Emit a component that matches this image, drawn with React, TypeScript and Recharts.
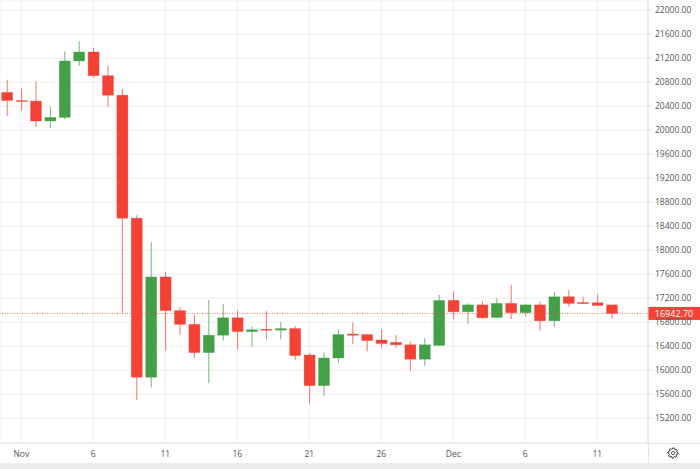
import React from 'react';
import { ComposedChart, Bar, XAxis, YAxis, CartesianGrid, ReferenceLine } from 'recharts';

const RED = '#f44336';
const GREEN = '#43a047';

// day offset from Nov 1 (Oct 31 = -1)
const days = [
  -1, 0, 1, 2, 3, 4, 5, 6, 7, 8, 9, 10, 11, 12, 13, 14, 15, 16, 17, 18, 19, 20,
  21, 22, 23, 24, 25, 26, 27, 28, 29, 30, 31, 32, 33, 34, 35, 36, 37, 38, 39, 40, 41,
];
const opens = [
  20627, 20491, 20482, 20150, 20210, 21150, 21300, 20905, 20580, 18530, 15880, 17550,
  16990, 16760, 16290, 16580, 16870, 16640, 16680, 16665, 16690, 16250, 15740, 16200,
  16600, 16590, 16500, 16460, 16420, 16180, 16410, 17160, 16970, 17085, 16875, 17110,
  16955, 17085, 16820, 17220, 17125, 17120, 17085,
];
const highs = [
  20838, 20690, 20810, 20390, 21310, 21480, 21370, 21065, 20680, 18580, 18130, 17640,
  17050, 16920, 17170, 17100, 16990, 16730, 16980, 16800, 16730, 16280, 16290, 16680,
  16790, 16600, 16680, 16580, 16470, 16530, 17250, 17310, 17110, 17150, 17195, 17420,
  17100, 17140, 17300, 17335, 17220, 17260, 17085,
];
const lows = [
  20238, 20320, 20050, 20030, 20180, 21070, 20870, 20380, 16950, 15500, 15710, 16320,
  16590, 16210, 15780, 16490, 16340, 16390, 16510, 16510, 16170, 15440, 15570, 16120,
  16430, 16310, 16360, 16370, 15990, 16070, 16400, 16850, 16770, 16850, 16870, 16850,
  16890, 16655, 16720, 17055, 17095, 17065, 16855,
];
const closes = [
  20491, 20482, 20150, 20210, 21150, 21300, 20905, 20580, 18530, 15880, 17550, 16990,
  16760, 16290, 16580, 16870, 16640, 16670, 16665, 16690, 16240, 15740, 16200, 16590,
  16580, 16490, 16440, 16420, 16180, 16420, 17160, 16970, 17085, 16870, 17110, 16955,
  17085, 16820, 17220, 17110, 17105, 17075, 16942.7,
];

const tickDays = [0, 5, 10, 15, 20, 25, 30, 35, 40];
const tickLabels = ['Nov', '6', '11', '16', '21', '26', 'Dec', '6', '11'];
const priceTicks = [
  15200, 15600, 16000, 16400, 16800, 17200, 17600, 18000, 18400, 18800, 19200,
  19600, 20000, 20400, 20800, 21200, 21600, 22000,
];
const lastPrice = 16942.7;

const data = days.map((day, i) => ({
  day,
  open: opens[i],
  high: highs[i],
  low: lows[i],
  close: closes[i],
  range: [lows[i], highs[i]],
}));

function Candle(props: any) {
  const { x, y, width, height, payload } = props;
  if (x == null || y == null || !payload) return null;
  const top = Math.min(y, y + height);
  const h = Math.abs(height);
  const { open, close, high, low } = payload;
  const k = high === low ? 0 : h / (high - low);
  const yOf = (v: number) => top + (high - v) * k;
  const color = close >= open ? GREEN : RED;
  const bodyTop = yOf(Math.max(open, close));
  const bodyH = Math.max(1, yOf(Math.min(open, close)) - bodyTop);
  const cx = x + width / 2;
  return (
    <g>
      <line x1={cx} x2={cx} y1={top} y2={top + h} stroke={color} strokeWidth={1} strokeOpacity={0.75} />
      <rect x={x} y={bodyTop} width={width} height={bodyH} fill={color} stroke={color} strokeOpacity={0.5} strokeWidth={0.6} />
    </g>
  );
}

function PriceTag(props: any) {
  const vb = props.viewBox || {};
  const x0 = (vb.x || 0) + (vb.width || 0);
  const yc = vb.y || 0;
  return (
    <g>
      <rect x={x0} y={yc - 6.5} width={52} height={13} fill={RED} />
      <text x={x0 + 26} y={yc} dy="0.35em" textAnchor="middle" fill="#fff" fontSize={9} fontFamily='"Open Sans", sans-serif'>
        {lastPrice.toFixed(2)}
      </text>
    </g>
  );
}

function Gear() {
  const pts: string[] = [];
  const teeth = 8;
  for (let i = 0; i < teeth * 4; i++) {
    const a = (i / (teeth * 4)) * Math.PI * 2 - Math.PI / 2;
    const r = i % 4 === 0 || i % 4 === 1 ? 5.2 : 3.9;
    pts.push(`${(6 + r * Math.cos(a)).toFixed(2)},${(6 + r * Math.sin(a)).toFixed(2)}`);
  }
  return (
    <svg width={12} height={12} style={{ position: 'absolute', left: 667, top: 447 }}>
      <polygon points={pts.join(' ')} fill="none" stroke="#333" strokeWidth={1} />
      <circle cx={6} cy={6} r={1.6} fill="none" stroke="#333" strokeWidth={0.8} />
    </svg>
  );
}

export default function App() {
  return (
    <div
      style={{
        position: 'fixed',
        left: 0,
        top: 0,
        width: 700,
        height: 469,
        background: '#fff',
        fontFamily: '"Open Sans", sans-serif',
      }}
    >
      <ComposedChart width={700} height={463} data={data} margin={{ top: 0, right: 0, bottom: 0, left: 0 }}>
        <CartesianGrid stroke="#efefef" />
        <XAxis
          dataKey="day"
          type="number"
          domain={[-1.479, 43.521]}
          allowDataOverflow
          ticks={tickDays}
          tickFormatter={(v) => tickLabels[tickDays.indexOf(v)] ?? ''}
          height={20}
          tickSize={0}
          tickMargin={8}
          stroke="#e3e3e3"
          tick={{ fontSize: 8.5, fill: '#555' }}
        />
        <YAxis
          orientation="right"
          type="number"
          domain={[14783.33, 22166.67]}
          allowDataOverflow
          ticks={priceTicks}
          tickFormatter={(v) => Number(v).toFixed(2)}
          width={52}
          tickSize={4}
          tickMargin={3}
          stroke="#e3e3e3"
          tick={{ fontSize: 8.5, fill: '#555' }}
        />
        <Bar dataKey="range" barSize={11} shape={<Candle />} isAnimationActive={false} />
        <ReferenceLine
          y={lastPrice}
          stroke={RED}
          strokeOpacity={0.75}
          strokeWidth={1}
          strokeDasharray="1 1.5"
          label={<PriceTag />}
        />
      </ComposedChart>
      <div style={{ position: 'absolute', left: 648, top: 443, width: 52, height: 1, background: '#e3e3e3' }} />
      <div style={{ position: 'absolute', left: 648, top: 443, width: 1, height: 20, background: '#e3e3e3' }} />
      <div style={{ position: 'absolute', left: 0, top: 463, width: 700, height: 6, background: '#ececec' }} />
      <Gear />
    </div>
  );
}
